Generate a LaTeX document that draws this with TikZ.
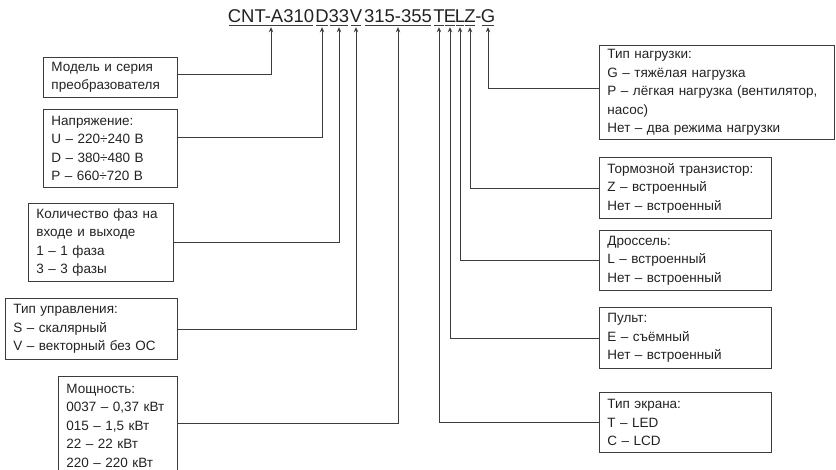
\documentclass[tikz,border=0pt]{standalone}
\usepackage{fontspec}
\setmainfont{Liberation Sans}
\usetikzlibrary{positioning,arrows.meta}
\definecolor{linegray}{HTML}{3C3C3C}
\definecolor{inkgray}{HTML}{222222}
\tikzset{
  box/.style={draw=linegray, line width=0.9pt, anchor=north west, align=left,
    inner xsep=8pt, inner ysep=0pt, text=inkgray, font=\fontsize{13.5}{18.5}\selectfont},
  seg/.style={anchor=base, inner sep=0pt, text height=13pt, text depth=3pt, text=inkgray,
    font=\fontsize{18.5}{20}\selectfont},
  uline/.style={draw=linegray, line width=0.9pt},
  conn/.style={draw=linegray, line width=0.9pt, -{Stealth[length=5pt,width=4.5pt]}}
}
\begin{document}
\begin{tikzpicture}[x=1pt,y=-1pt]
  \useasboundingbox (0,0) rectangle (836,469);
  \node[seg] (tmodel) at (271,22) {CNT-A310};
  \node[seg] (tvolt) at (322,22) {D};
  \node[seg] (tphase) at (339,22) {33};
  \node[seg] (tctrl) at (356,22) {V};
  \node[seg] (tpower) at (398,22) {315-355};
  \node[seg] (tscreen) at (439,22) {T};
  \node[seg] (tpanel) at (450,22) {E};
  \node[seg] (tchoke) at (460,22) {L};
  \node[seg] (tbrake) at (470,22) {Z};
  \node[seg] (tdash) at (478.5,22) {-};
  \node[seg] (tload) at (488,22) {G};
  \draw[uline] ([xshift=1.2pt]tmodel.south west) -- ([xshift=-1.2pt]tmodel.south east);
  \draw[uline] ([xshift=1.2pt]tvolt.south west) -- ([xshift=-1.2pt]tvolt.south east);
  \draw[uline] ([xshift=1.2pt]tphase.south west) -- ([xshift=-1.2pt]tphase.south east);
  \draw[uline] ([xshift=1.2pt]tctrl.south west) -- ([xshift=-1.2pt]tctrl.south east);
  \draw[uline] ([xshift=1.2pt]tpower.south west) -- ([xshift=-1.2pt]tpower.south east);
  \draw[uline] ([xshift=1.2pt]tscreen.south west) -- ([xshift=-1.2pt]tscreen.south east);
  \draw[uline] ([xshift=1.2pt]tpanel.south west) -- ([xshift=-1.2pt]tpanel.south east);
  \draw[uline] ([xshift=1.2pt]tchoke.south west) -- ([xshift=-1.2pt]tchoke.south east);
  \draw[uline] ([xshift=1.2pt]tbrake.south west) -- ([xshift=-1.2pt]tbrake.south east);
  \draw[uline] ([xshift=1.2pt]tload.south west) -- ([xshift=-1.2pt]tload.south east);
  \node[box, text width=118pt, minimum height=40pt] (model) at (43,57)
    {Модель и серия\\преобразователя};
  \node[box, text width=118pt, minimum height=78pt] (volt) at (43,109)
    {Напряжение:\\U – 220÷240 В\\D – 380÷480 В\\P – 660÷720 В};
  \node[box, text width=129pt, minimum height=78pt] (phase) at (28,203)
    {Количество фаз на\\входе и выходе\\1 – 1 фаза\\3 – 3 фазы};
  \node[box, text width=156pt, minimum height=61pt] (ctrl) at (5,298)
    {Тип управления:\\S – скалярный\\V – векторный без ОС};
  \node[box, text width=103pt, minimum height=98pt] (power) at (58,376)
    {Мощность:\\0037 – 0,37 кВт\\015 – 1,5 кВт\\22 – 22 кВт\\220 – 220 кВт};
  \node[box, text width=219pt, minimum height=94pt] (load) at (599,45)
    {Тип нагрузки:\\G – тяжёлая нагрузка\\P – лёгкая нагрузка (вентилятор,\\насос)\\Нет – два режима нагрузки};
  \node[box, text width=156pt, minimum height=61pt] (brake) at (599,157)
    {Тормозной транзистор:\\Z – встроенный\\Нет – встроенный};
  \node[box, text width=156pt, minimum height=60pt] (choke) at (599,230)
    {Дроссель:\\L – встроенный\\Нет – встроенный};
  \node[box, text width=156pt, minimum height=61pt] (panel) at (599,307)
    {Пульт:\\E – съёмный\\Нет – встроенный};
  \node[box, text width=156pt, minimum height=60pt] (screen) at (599,392)
    {Тип экрана:\\T – LED\\C – LCD};
  \begin{scope}[conn]
    \draw ([yshift=3pt]model.east) -| ([yshift=-2pt]tmodel.south);
    \draw ([yshift=11pt]volt.east) -| ([yshift=-2pt]tvolt.south);
    \draw (phase.east) -| ([yshift=-2pt]tphase.south);
    \draw (ctrl.east) -| ([yshift=-2pt]tctrl.south);
    \draw ([yshift=2pt]power.east) -| ([yshift=-2pt]tpower.south);
    \draw (screen.west) -| ([yshift=-2pt]tscreen.south);
    \draw (panel.west) -| ([yshift=-2pt]tpanel.south);
    \draw (choke.west) -| ([yshift=-2pt]tchoke.south);
    \draw (brake.west) -| ([yshift=-2pt]tbrake.south);
    \draw ([yshift=4pt]load.west) -| ([yshift=-2pt]tload.south);
  \end{scope}
\end{tikzpicture}
\end{document}
